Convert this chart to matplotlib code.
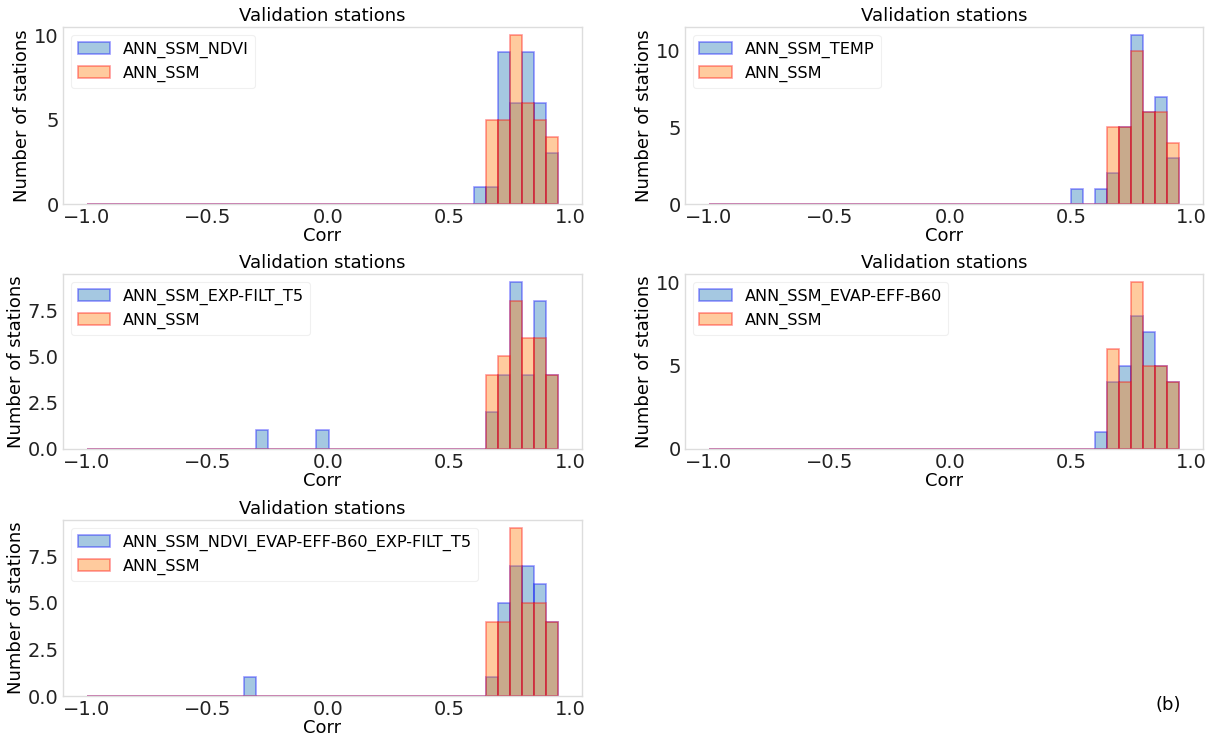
import numpy as np
import matplotlib
matplotlib.use("Agg")
import matplotlib.pyplot as plt

# Histogram bins (Corr), width 0.05, from -1.0 to 0.95
bin_start, bin_stop, bin_step = -1.0, 1.0, 0.05

# Bin counts: {bin left edge: count}
ssm_ndvi = {0.60: 1, 0.65: 1, 0.70: 9, 0.75: 6, 0.80: 9, 0.85: 6, 0.90: 3}
ssm_p1 = {0.65: 5, 0.70: 5, 0.75: 10, 0.80: 6, 0.85: 5, 0.90: 4}

ssm_temp = {0.50: 1, 0.60: 1, 0.65: 2, 0.70: 5, 0.75: 11, 0.80: 6, 0.85: 7, 0.90: 3}
ssm_p2 = {0.65: 5, 0.70: 5, 0.75: 10, 0.80: 6, 0.85: 6, 0.90: 4}

ssm_expfilt = {-0.30: 1, -0.05: 1, 0.65: 2, 0.70: 4, 0.75: 9, 0.80: 4, 0.85: 8, 0.90: 4}
ssm_p3 = {0.65: 4, 0.70: 5, 0.75: 8, 0.80: 6, 0.85: 6, 0.90: 4}

ssm_evap = {0.60: 1, 0.65: 4, 0.70: 5, 0.75: 8, 0.80: 7, 0.85: 5, 0.90: 4}
ssm_p4 = {0.65: 6, 0.70: 4, 0.75: 10, 0.80: 5, 0.85: 5, 0.90: 4}

ssm_all = {-0.35: 1, 0.65: 1, 0.70: 5, 0.75: 7, 0.80: 7, 0.85: 6, 0.90: 4}
ssm_p5 = {0.65: 4, 0.70: 4, 0.75: 9, 0.80: 5, 0.85: 5, 0.90: 4}

labels = ["ANN_SSM_NDVI", "ANN_SSM_TEMP", "ANN_SSM_EXP-FILT_T5",
          "ANN_SSM_EVAP-EFF-B60", "ANN_SSM_NDVI_EVAP-EFF-B60_EXP-FILT_T5"]
ref_label = "ANN_SSM"
title = "Validation stations"
xlabel = "Corr"
ylabel = "Number of stations"

bins = np.arange(bin_start, bin_stop, bin_step)


def expand(counts):
    vals = []
    for left, n in counts.items():
        vals += [left + bin_step / 2] * n
    return np.array(vals)


fig = plt.figure(figsize=(12.19, 7.40), dpi=100)

W, H = 1219, 740
boxes = [
    (63, 27, 582, 204),
    (685, 27, 1203, 204),
    (63, 274, 582, 449),
    (685, 274, 1203, 449),
    (63, 520, 582, 696),
]
pairs = [(ssm_ndvi, ssm_p1), (ssm_temp, ssm_p2), (ssm_expfilt, ssm_p3),
         (ssm_evap, ssm_p4), (ssm_all, ssm_p5)]

for (l, t, r, b), (exp_c, ref_c), lab in zip(boxes, pairs, labels):
    ax = fig.add_axes([l / W, 1 - b / H, (r - l) / W, (b - t) / H])
    ax.hist(expand(exp_c), bins=bins, color="C0", edgecolor="blue",
            alpha=0.4, linewidth=1.2, label=lab)
    ax.hist(expand(ref_c), bins=bins, color="C1", edgecolor="red",
            alpha=0.4, linewidth=1.2, label=ref_label)
    ax.set_title(title, fontsize=13, pad=4)
    ax.set_xlabel(xlabel, fontsize=13, labelpad=0)
    ax.set_ylabel(ylabel, fontsize=13, labelpad=2)
    ax.tick_params(labelsize=14, length=0, pad=3, colors="#222222")
    ax.set_xticks([-1.0, -0.5, 0.0, 0.5, 1.0])
    for sp in ax.spines.values():
        sp.set_color("#dddddd")
        sp.set_linewidth(1.0)
    leg = ax.legend(loc="upper left", fontsize=11.6, framealpha=1,
                    edgecolor="#f0f0f0", borderaxespad=0.5)
    leg.get_frame().set_linewidth(0.8)

fig.text(1168 / W, 1 - 705 / H, "(b)", fontsize=13, ha="center", va="center")

fig.savefig("out.png", dpi=100)
